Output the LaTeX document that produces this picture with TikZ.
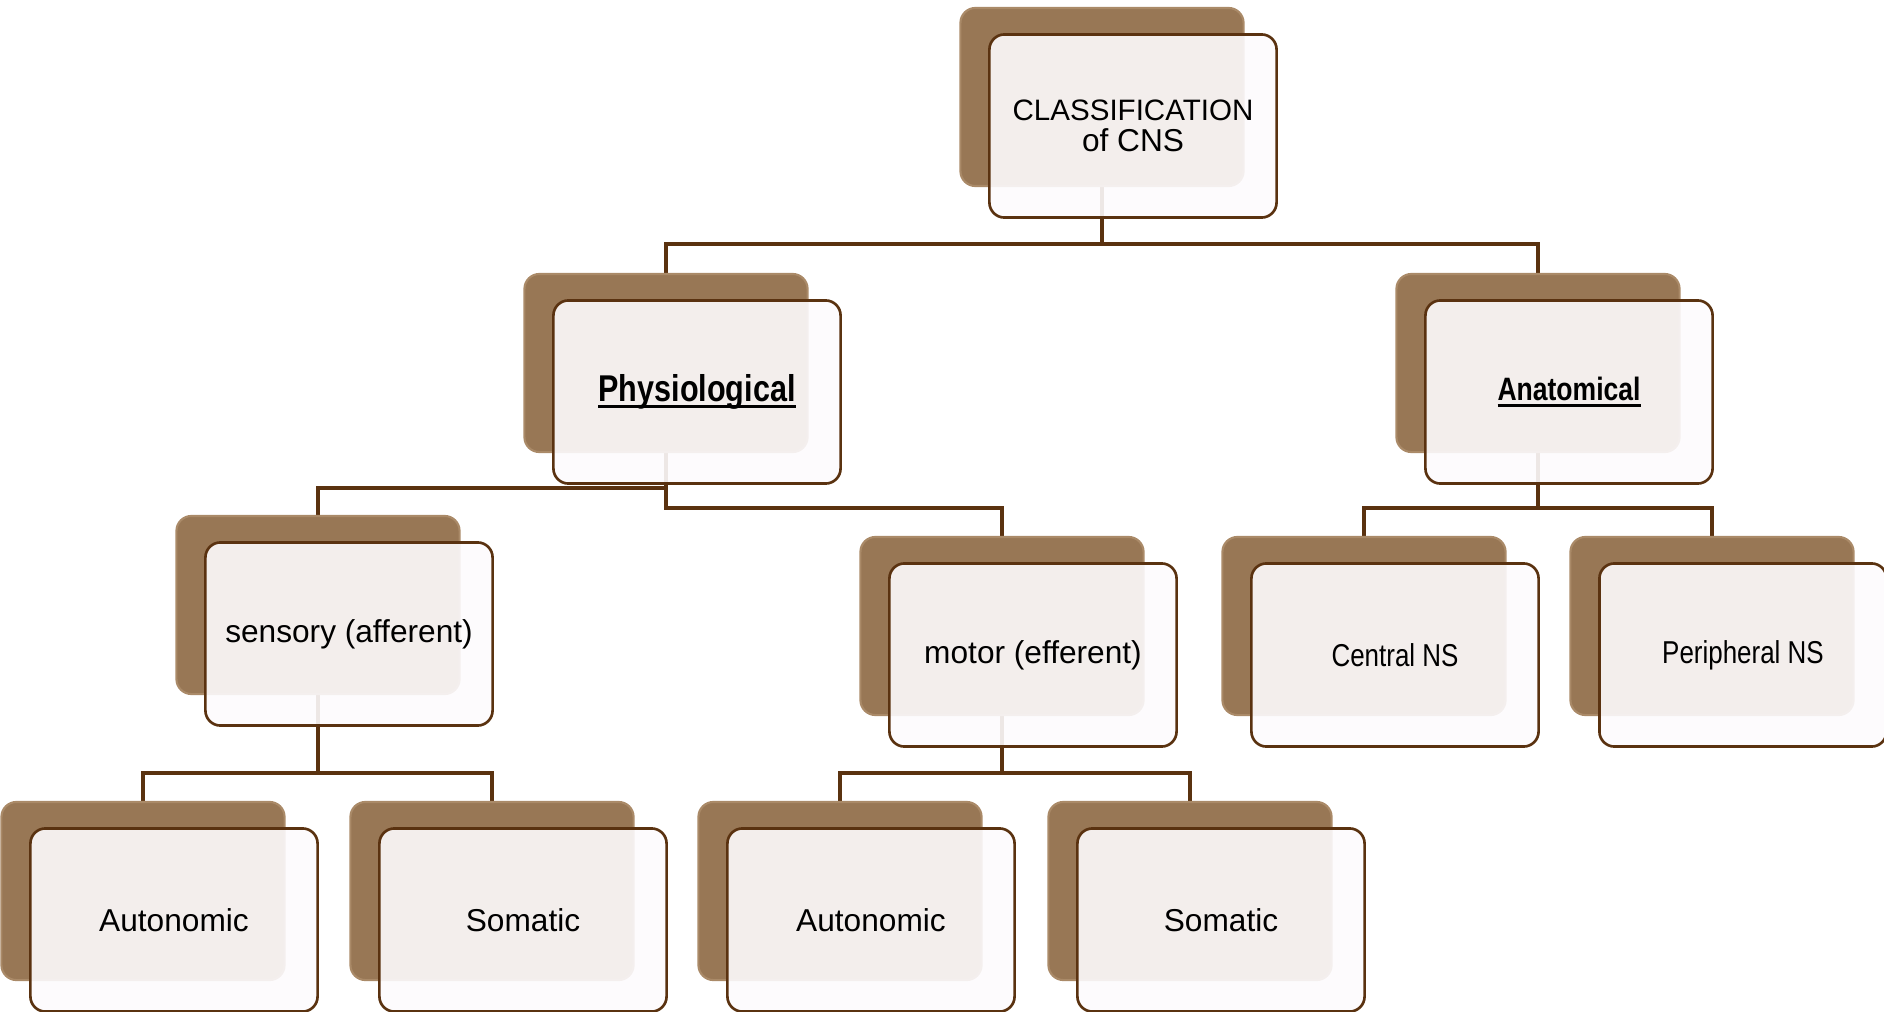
\documentclass[tikz,border=0pt]{standalone}
\usepackage{fontspec}
\setmainfont{Liberation Sans}
\newfontfamily\narrowfont[FakeStretch=0.82]{Liberation Sans}
\usetikzlibrary{positioning,calc,backgrounds}

\definecolor{cnsbrown}{RGB}{152,119,85}
\definecolor{cnsedge}{RGB}{170,138,104}
\definecolor{cnsline}{RGB}{90,50,16}
\definecolor{cnspaper}{RGB}{253,251,253}

\newcommand\cnsul[1]{\setbox0\hbox{#1}\rlap{\copy0}\rule[-1.8pt]{\wd0}{0.8pt}}

\tikzset{
  backbox/.style={rounded corners=0.15cm, fill=cnsbrown, draw=cnsedge, line width=0.6pt,
    minimum width=2.83cm, minimum height=1.78cm, inner sep=0pt},
  frontbox/.style={rounded corners=0.15cm, fill=cnspaper, fill opacity=0.9, text opacity=1,
    draw=cnsline, line width=0.75pt, minimum width=2.87cm, minimum height=1.83cm,
    align=center, inner sep=0pt, font=\fontsize{9}{11}\selectfont},
  link/.style={cnsline, line width=1.4pt}
}

\begin{document}
\begin{tikzpicture}[x=0.01cm, y=-0.01cm]
  \useasboundingbox (0,0) rectangle (1884,1012);

  % boxes: brown card behind, pale card in front
  \foreach \n/\x/\y/\t in {
      cns/1102/97/{\fontsize{8.4}{9.1}\selectfont CLASSIFICATION\\[-2.1pt]of CNS},
      phys/666/363/{\narrowfont\bfseries\fontsize{10.6}{12}\selectfont\cnsul{Physiological}},
      anat/1538/363/{\narrowfont\bfseries\fontsize{9.2}{11}\selectfont\cnsul{Anatomical}},
      sens/318/605/{sensory (afferent)},
      mot/1002/626/{motor (efferent)},
      cen/1364/626/{\narrowfont Central NS},
      per/1712/626/{\narrowfont Peripheral NS},
      autA/143/891/{Autonomic},
      somA/492/891/{Somatic},
      autB/840/891/{Autonomic},
      somB/1190/891/{Somatic}} {
    \node[backbox] (\n-b) at (\x,\y) {};
    \node[frontbox] (\n) at ($(\n-b)+(31,29)$) {\t};
  }

  % tree lines
  \coordinate (busA) at (0,244);
  \coordinate (busB) at (0,488);
  \coordinate (busC) at (0,508);
  \coordinate (busD) at (0,773);
  \begin{scope}[on background layer]
    \draw[link] (cns-b.south) -- (cns-b.south |- busA) -| (phys-b.north);
    \draw[link] (cns-b.south |- busA) -| (anat-b.north);
    \draw[link] (phys-b.south) -- (phys-b.south |- busB) -| (sens-b.north);
    \draw[link] (phys-b.south) -- (phys-b.south |- busC) -| (mot-b.north);
    \draw[link] (anat-b.south) -- (anat-b.south |- busC) -| (cen-b.north);
    \draw[link] (anat-b.south |- busC) -| (per-b.north);
    \draw[link] (sens-b.south) -- (sens-b.south |- busD) -| (autA-b.north);
    \draw[link] (sens-b.south |- busD) -| (somA-b.north);
    \draw[link] (mot-b.south) -- (mot-b.south |- busD) -| (autB-b.north);
    \draw[link] (mot-b.south |- busD) -| (somB-b.north);
  \end{scope}
\end{tikzpicture}
\end{document}
